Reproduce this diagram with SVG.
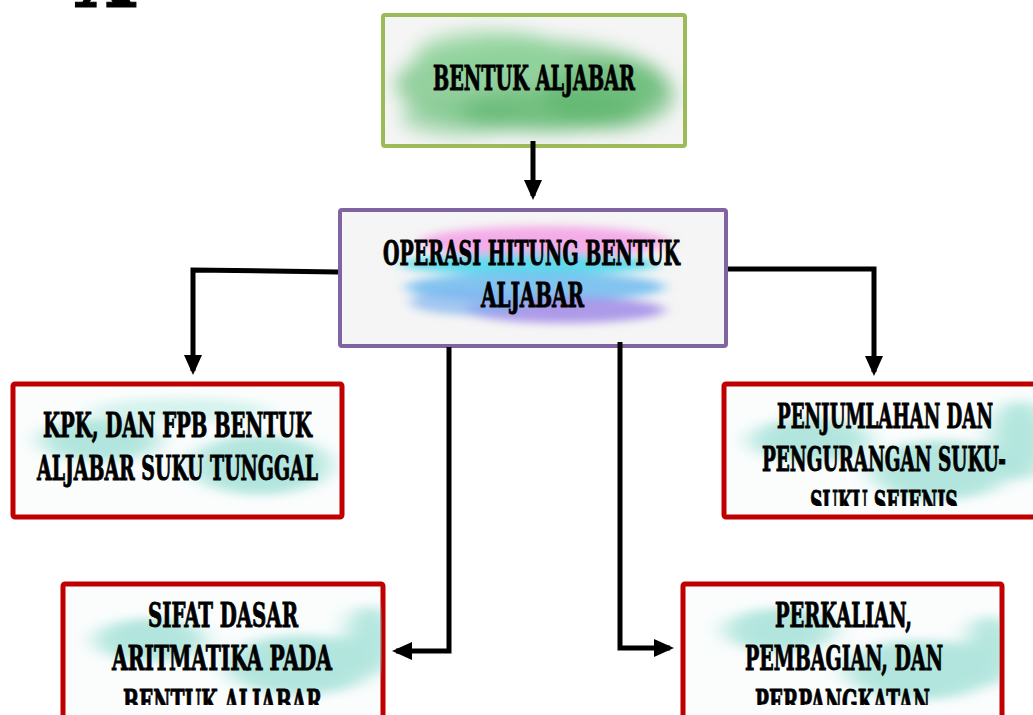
<svg xmlns="http://www.w3.org/2000/svg" width="1033" height="715" viewBox="0 0 1033 715">
<style>
.t{font-family:"DejaVu Serif","Liberation Serif",serif;font-weight:bold;font-stretch:condensed;font-size:33px;fill:#000;stroke:#000;stroke-width:0.9}
.conn{fill:none;stroke:#000;stroke-width:5;stroke-linejoin:miter}
.red{fill:#fbfdfd;stroke:#c00000;stroke-width:5}
</style>
<defs>
<filter id="blur" x="-30%" y="-30%" width="160%" height="160%"><feGaussianBlur stdDeviation="9"/></filter>
<filter id="blurS" x="-30%" y="-30%" width="160%" height="160%"><feGaussianBlur stdDeviation="7 4"/></filter>
<filter id="blurT" x="-30%" y="-30%" width="160%" height="160%"><feGaussianBlur stdDeviation="12 5"/></filter>
<marker id="ah" markerWidth="4" markerHeight="4" refX="3.2" refY="2" orient="auto" markerUnits="strokeWidth"><path d="M0,0.2 L4,2 L0,3.8 Z" fill="#000"/></marker>
<clipPath id="c1"><rect x="384" y="16" width="300" height="129"/></clipPath>
<clipPath id="c2"><rect x="342" y="211" width="382" height="134"/></clipPath>
<clipPath id="c3"><rect x="14" y="385" width="326" height="131"/></clipPath>
<clipPath id="c4"><rect x="725" y="385" width="310" height="121"/></clipPath>
<clipPath id="c5"><rect x="64" y="585" width="318" height="120"/></clipPath>
<clipPath id="c6"><rect x="684" y="585" width="316" height="120"/></clipPath>
<clipPath id="c4b"><rect x="725" y="385" width="310" height="131"/></clipPath>
<clipPath id="c5b"><rect x="64" y="585" width="318" height="130"/></clipPath>
<clipPath id="c6b"><rect x="684" y="585" width="316" height="130"/></clipPath>
</defs>

<text class="t" x="74" y="7" textLength="62" lengthAdjust="spacingAndGlyphs" style="font-size:80px">X</text>

<g id="node-bentuk">
<rect x="383" y="15" width="302" height="131" rx="2" fill="#f5f5f5" stroke="#9bbb59" stroke-width="4"/>
<g clip-path="url(#c1)" filter="url(#blur)">
<ellipse cx="530" cy="85" rx="135" ry="45" fill="#6cc07b" opacity="0.7"/>
<ellipse cx="490" cy="55" rx="75" ry="25" fill="#8fd39a" opacity="0.7"/>
<ellipse cx="610" cy="95" rx="65" ry="35" fill="#5db56c" opacity="0.6"/>
<ellipse cx="460" cy="118" rx="60" ry="18" fill="#7cc68a" opacity="0.6"/>
<ellipse cx="550" cy="110" rx="90" ry="22" fill="#5db56c" opacity="0.6"/>
</g>
<text class="t" x="433" y="90" textLength="202" lengthAdjust="spacingAndGlyphs">BENTUK ALJABAR</text>
</g>

<g id="node-operasi">
<rect x="340" y="210" width="386" height="136" rx="2" fill="#f5f5f5" stroke="#8064a2" stroke-width="4"/>
<g clip-path="url(#c2)" filter="url(#blurS)">
<ellipse cx="545" cy="242" rx="125" ry="16" fill="#f4a0e6" opacity="0.85"/>
<ellipse cx="530" cy="264" rx="130" ry="11" fill="#47d6ea" opacity="0.85"/>
<ellipse cx="535" cy="287" rx="130" ry="15" fill="#67b8ef" opacity="0.8"/>
<ellipse cx="565" cy="310" rx="100" ry="13" fill="#9b84e6" opacity="0.8"/>
<ellipse cx="470" cy="302" rx="60" ry="13" fill="#7fb4f0" opacity="0.7"/>
</g>
<text class="t" x="383" y="265" textLength="297" lengthAdjust="spacingAndGlyphs">OPERASI HITUNG BENTUK</text>
<text class="t" x="481" y="307" textLength="103" lengthAdjust="spacingAndGlyphs">ALJABAR</text>
</g>

<g id="node-kpk">
<rect class="red" x="13" y="384" width="329" height="133" rx="2"/>
<g clip-path="url(#c3)" filter="url(#blurT)" opacity="0.45">
<ellipse cx="100" cy="440" rx="60" ry="22" fill="#5ccab8"/>
<ellipse cx="260" cy="465" rx="70" ry="30" fill="#5ccab8"/>
<ellipse cx="180" cy="410" rx="90" ry="12" fill="#a8e6dc"/>
</g>
<text class="t" x="43" y="437" textLength="269" lengthAdjust="spacingAndGlyphs">KPK, DAN FPB BENTUK</text>
<text class="t" x="37" y="480" textLength="281" lengthAdjust="spacingAndGlyphs">ALJABAR SUKU TUNGGAL</text>
</g>

<g id="node-penjumlahan">
<rect class="red" x="724" y="384" width="322" height="133" rx="2"/>
<g clip-path="url(#c4b)" filter="url(#blurT)" opacity="0.45">
<ellipse cx="810" cy="440" rx="60" ry="22" fill="#5ccab8"/>
<ellipse cx="940" cy="470" rx="70" ry="30" fill="#5ccab8"/>
<ellipse cx="1020" cy="440" rx="30" ry="40" fill="#5ccab8"/>
</g>
<text class="t" x="777" y="428" textLength="216" lengthAdjust="spacingAndGlyphs">PENJUMLAHAN DAN</text>
<text class="t" x="762" y="471" textLength="244" lengthAdjust="spacingAndGlyphs">PENGURANGAN SUKU-</text>
<text class="t" x="810" y="515" textLength="148" lengthAdjust="spacingAndGlyphs" clip-path="url(#c4)">SUKU SEJENIS</text>
</g>

<g id="node-sifat">
<rect class="red" x="63" y="584" width="320" height="134" rx="2"/>
<g clip-path="url(#c5b)" filter="url(#blurT)" opacity="0.45">
<ellipse cx="150" cy="640" rx="55" ry="22" fill="#5ccab8"/>
<ellipse cx="300" cy="665" rx="75" ry="30" fill="#5ccab8"/>
<ellipse cx="370" cy="640" rx="25" ry="35" fill="#5ccab8"/>
</g>
<text class="t" x="148" y="627" textLength="150" lengthAdjust="spacingAndGlyphs">SIFAT DASAR</text>
<text class="t" x="112" y="670" textLength="220" lengthAdjust="spacingAndGlyphs">ARITMATIKA PADA</text>
<text class="t" x="123" y="714" textLength="199" lengthAdjust="spacingAndGlyphs" clip-path="url(#c5)">BENTUK ALJABAR</text>
</g>

<g id="node-perkalian">
<rect class="red" x="683" y="584" width="319" height="134" rx="2"/>
<g clip-path="url(#c6b)" filter="url(#blurT)" opacity="0.45">
<ellipse cx="780" cy="630" rx="55" ry="22" fill="#5ccab8"/>
<ellipse cx="920" cy="670" rx="75" ry="30" fill="#5ccab8"/>
<ellipse cx="990" cy="650" rx="25" ry="35" fill="#5ccab8"/>
</g>
<text class="t" x="775" y="627" textLength="137" lengthAdjust="spacingAndGlyphs">PERKALIAN,</text>
<text class="t" x="745" y="670" textLength="198" lengthAdjust="spacingAndGlyphs">PEMBAGIAN, DAN</text>
<text class="t" x="755" y="714" textLength="175" lengthAdjust="spacingAndGlyphs" clip-path="url(#c6)">PERPANGKATAN</text>
</g>

<g id="connectors">
<path class="conn" d="M533,141 L533,196" marker-end="url(#ah)"/>
<path class="conn" d="M338,272 L193,270 L193,371" marker-end="url(#ah)"/>
<path class="conn" d="M728,269 L874,269 L874,372" marker-end="url(#ah)"/>
<path class="conn" d="M449,347 L449,651 L396,651" marker-end="url(#ah)"/>
<path class="conn" d="M620,342 L620,648 L670,648" marker-end="url(#ah)"/>
</g>
</svg>
